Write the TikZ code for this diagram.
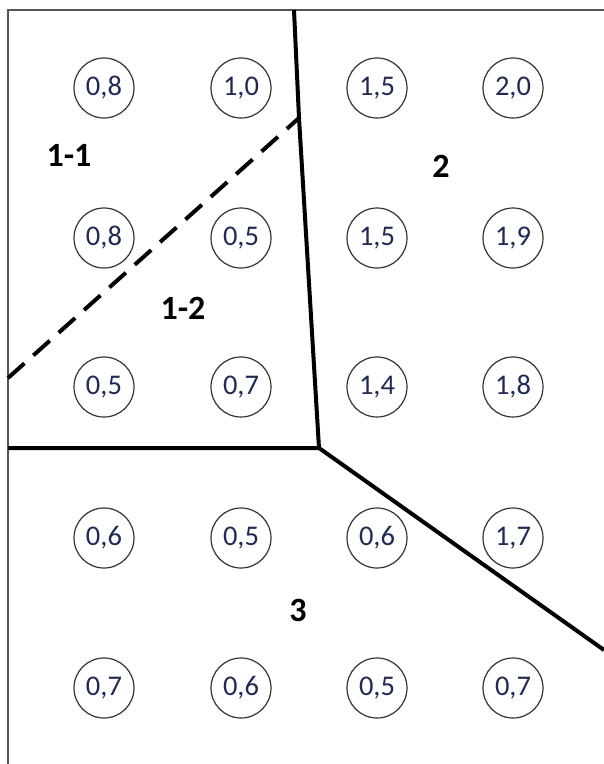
\documentclass[tikz,border=0pt]{standalone}
\usepackage{fontspec}
\setmainfont{Carlito}
\usetikzlibrary{positioning}

\definecolor{valblue}{HTML}{1F2A55}
\definecolor{framegray}{HTML}{555555}

\tikzset{
    cell/.style={draw=black!80, line width=1.2pt, circle, minimum size=60pt, inner sep=0pt,
        text=valblue, font=\fontsize{28.5}{30}\selectfont},
    zone/.style={font=\fontsize{34}{36}\selectfont\bfseries},
    border/.style={black, line width=4pt},
}

\begin{document}
\begin{tikzpicture}[x=1pt, y=-1pt]
    \useasboundingbox (0,0) rectangle (604,764);

    % frame (open at right and bottom)
    \draw[framegray, line width=2pt] (8,764) -- (8,10) -- (604,10);

    % measured values
    \node[cell] (a1) at (104,88)  {0,8};
    \node[cell] (a2) at (241,88)  {1,0};
    \node[cell] (a3) at (377,88)  {1,5};
    \node[cell] (a4) at (513,88)  {2,0};
    \node[cell] (b1) at (104,238) {0,8};
    \node[cell] (b2) at (241,238) {0,5};
    \node[cell] (b3) at (377,238) {1,5};
    \node[cell] (b4) at (513,238) {1,9};
    \node[cell] (c1) at (104,387) {0,5};
    \node[cell] (c2) at (241,387) {0,7};
    \node[cell] (c3) at (377,387) {1,4};
    \node[cell] (c4) at (513,387) {1,8};
    \node[cell] (d1) at (104,538) {0,6};
    \node[cell] (d2) at (241,538) {0,5};
    \node[cell] (d3) at (377,538) {0,6};
    \node[cell] (d4) at (513,538) {1,7};
    \node[cell] (e1) at (104,688) {0,7};
    \node[cell] (e2) at (241,688) {0,6};
    \node[cell] (e3) at (377,688) {0,5};
    \node[cell] (e4) at (513,688) {0,7};

    % zone borders
    \coordinate (top) at (294,10);
    \coordinate (hook) at (299,118);
    \coordinate (mid) at (319,448);
    \coordinate (left) at (8,448);
    \coordinate (right) at (604,650);
    \coordinate (dleft) at (8,378);
    \draw[border] (top) -- (hook) -- (mid);
    \draw[border] (left) -- (mid) -- (right);
    \draw[border, dash pattern=on 22pt off 12pt] (dleft) -- (hook);

    % zone names
    \node[zone] (z11) at (69,155)  {1-1};
    \node[zone] (z12) at (183,308) {1-2};
    \node[zone] (z2)  at (441,166) {2};
    \node[zone] (z3)  at (298,610) {3};
\end{tikzpicture}
\end{document}
